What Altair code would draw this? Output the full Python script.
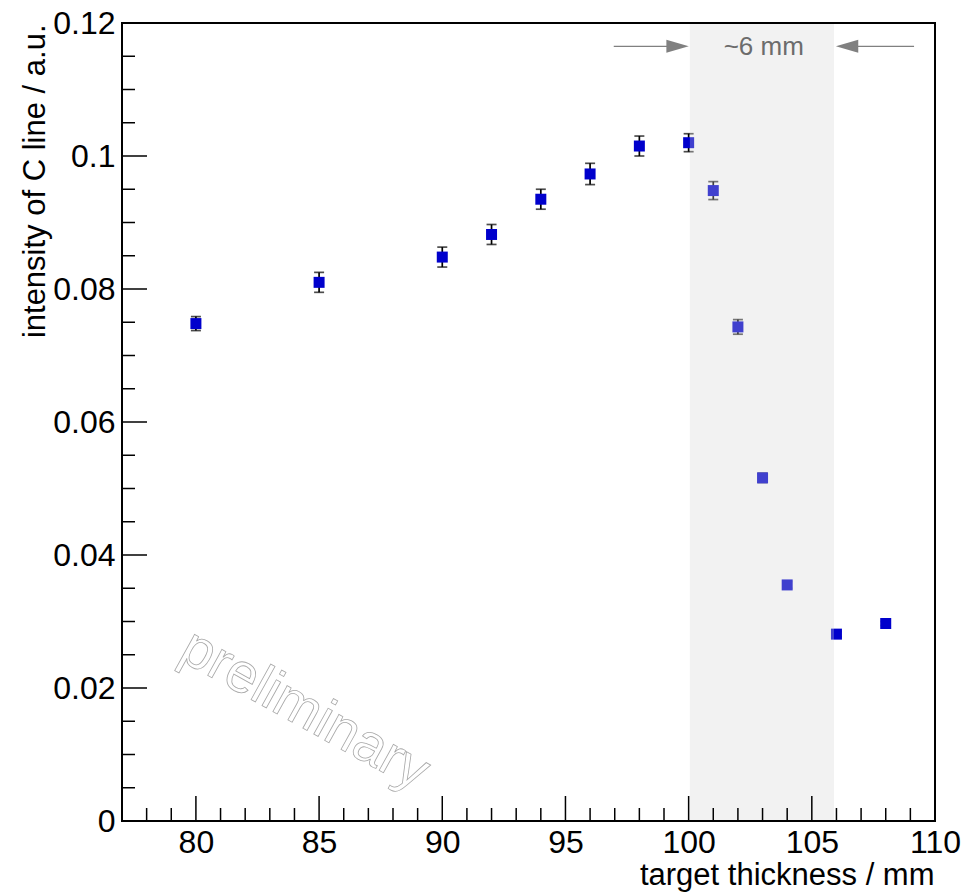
import altair as alt
import pandas as pd

# ---- data ----
thickness = [80, 85, 90, 92, 94, 96, 98, 100, 101, 102, 103, 104, 106, 108]
intensity = [0.0748, 0.0810, 0.0848, 0.0882, 0.0935, 0.0973, 0.1015, 0.1020,
             0.0948, 0.0743, 0.0516, 0.0355, 0.0281, 0.0297]
error = [0.00105, 0.0015, 0.0015, 0.0015, 0.0015, 0.0016, 0.0015, 0.00135,
         0.00135, 0.0011, 0.0007, 0.0005, 0.0004, 0.0003]

x_label_values = [80, 85, 90, 95, 100, 105, 110]
x_ticks_major = [80, 85, 90, 95, 100, 105]
x_ticks_minor = [78, 79, 81, 82, 83, 84, 86, 87, 88, 89, 91, 92, 93, 94,
                 96, 97, 98, 99, 101, 102, 103, 104, 106, 107, 108, 109]
y_label_values = [0, 0.02, 0.04, 0.06, 0.08, 0.10, 0.12]
y_ticks_major = [0.02, 0.04, 0.06, 0.08, 0.10]
y_ticks_minor = [0.005, 0.01, 0.015, 0.025, 0.03, 0.035, 0.045, 0.05, 0.055,
                 0.065, 0.07, 0.075, 0.085, 0.09, 0.095, 0.105, 0.11, 0.115]

band_range = [100.05, 105.9]
annot_text = ["~6 mm"]
annot_x = [103.05]
annot_y = [0.1164]
arrow_line_start = [96.96, 109.15]
arrow_line_end = [99.6, 106.4]
arrow_head_x = [99.55, 106.43]
arrow_y = [0.1165, 0.1165]
arrow_dir = ["right", "left"]
watermark = ["preliminary"]
watermark_x = [84.43]
watermark_y = [0.0167]

W, H = 813, 798
FONT = "Liberation Sans"

xs = alt.Scale(domain=[77, 110], nice=False, zero=False)
ys = alt.Scale(domain=[0, 0.12], nice=False, zero=False)

df = pd.DataFrame({"t": thickness, "v": intensity, "e": error})
df["lo"] = df["v"] - df["e"]
df["hi"] = df["v"] + df["e"]

xaxis = alt.Axis(values=x_label_values, format="d", ticks=False, tickSize=0,
                 domain=False, grid=False, labelFontSize=32, labelFont=FONT,
                 labelColor="black", labelPadding=31, labelBaseline="alphabetic",
                 labelFlush=False, labelOverlap=False,
                 title="target thickness / mm", titleFont=FONT, titleFontSize=31,
                 titleFontWeight="normal", titleColor="black", titleX=W - 1, titleY=63,
                 titleAlign="right", titleBaseline="alphabetic")
yaxis = alt.Axis(values=y_label_values, format="~g", ticks=False, tickSize=0,
                 domain=False, grid=False, labelFontSize=32, labelFont=FONT,
                 labelColor="black", labelPadding=7, labelBaseline="middle",
                 labelAlign="right", labelFlush=False, labelOverlap=False,
                 title="intensity of C line / a.u.", titleFont=FONT, titleFontSize=31,
                 titleFontWeight="normal", titleColor="black", titleAngle=270,
                 titleX=-78, titleY=1, titleAlign="right", titleBaseline="alphabetic")

base = alt.Chart(df)

err_rule = base.mark_rule(color="black", strokeWidth=1.7).encode(
    x=alt.X("t:Q", scale=xs, axis=xaxis),
    y=alt.Y("lo:Q", scale=ys, axis=yaxis),
    y2="hi:Q",
)
cap_lo = base.mark_tick(color="black", thickness=1.7, size=10, orient="horizontal").encode(
    x=alt.X("t:Q", scale=xs), y=alt.Y("lo:Q", scale=ys))
cap_hi = base.mark_tick(color="black", thickness=1.7, size=10, orient="horizontal").encode(
    x=alt.X("t:Q", scale=xs), y=alt.Y("hi:Q", scale=ys))
points = base.mark_square(size=121, color="#0000cc", opacity=1).encode(
    x=alt.X("t:Q", scale=xs), y=alt.Y("v:Q", scale=ys))

band = alt.Chart(pd.DataFrame({"b0": [band_range[0]], "b1": [band_range[1]]})).mark_rect(
    color="#d5d5d5", opacity=0.3).encode(
    x=alt.X("b0:Q", scale=xs), x2="b1:Q", y=alt.value(1), y2=alt.value(H - 1))

xmaj = alt.Chart(pd.DataFrame({"p": x_ticks_major})).mark_rule(color="black", strokeWidth=1.5).encode(
    x=alt.X("p:Q", scale=xs), y=alt.value(H), y2=alt.value(H - 25))
xmin = alt.Chart(pd.DataFrame({"p": x_ticks_minor})).mark_rule(color="black", strokeWidth=1.5).encode(
    x=alt.X("p:Q", scale=xs), y=alt.value(H), y2=alt.value(H - 13))
ymaj = alt.Chart(pd.DataFrame({"p": y_ticks_major})).mark_rule(color="black", strokeWidth=1.5).encode(
    y=alt.Y("p:Q", scale=ys), x=alt.value(0), x2=alt.value(25))
ymin = alt.Chart(pd.DataFrame({"p": y_ticks_minor})).mark_rule(color="black", strokeWidth=1.5).encode(
    y=alt.Y("p:Q", scale=ys), x=alt.value(0), x2=alt.value(13))

annot = alt.Chart(pd.DataFrame({"x": annot_x, "y": annot_y, "s": annot_text})).mark_text(
    font=FONT, fontSize=26, color="#6c6c6c", baseline="middle", align="center").encode(
    x=alt.X("x:Q", scale=xs), y=alt.Y("y:Q", scale=ys), text="s:N")

arrows_df = pd.DataFrame({"x1": arrow_line_start, "x2": arrow_line_end,
                          "hx": arrow_head_x, "y": arrow_y, "d": arrow_dir})
arrow_lines = alt.Chart(arrows_df).mark_rule(color="#808080", strokeWidth=1.2).encode(
    x=alt.X("x1:Q", scale=xs), x2="x2:Q", y=alt.Y("y:Q", scale=ys))
head_r = alt.Chart(arrows_df[arrows_df.d == "right"]).mark_point(
    shape="M -1 -0.59 L 1 0 L -1 0.59 Z", size=500, filled=True, color="#808080", opacity=1).encode(
    x=alt.X("hx:Q", scale=xs), y=alt.Y("y:Q", scale=ys))
head_l = alt.Chart(arrows_df[arrows_df.d == "left"]).mark_point(
    shape="M 1 -0.59 L -1 0 L 1 0.59 Z", size=500, filled=True, color="#808080", opacity=1).encode(
    x=alt.X("hx:Q", scale=xs), y=alt.Y("y:Q", scale=ys))

wm = alt.Chart(pd.DataFrame({"x": watermark_x, "y": watermark_y, "s": watermark})).mark_text(
    font=FONT, fontSize=56, angle=29, fill="transparent", stroke="#a8a8a8", strokeWidth=0.8,
    align="center", baseline="middle").encode(
    x=alt.X("x:Q", scale=xs), y=alt.Y("y:Q", scale=ys), text="s:N")

chart = alt.layer(
    err_rule, cap_lo, cap_hi, points, band, xmaj, xmin, ymaj, ymin,
    wm, arrow_lines, head_r, head_l, annot
).properties(
    width=W, height=H,
    autosize=alt.AutoSizeParams(type="none"),
    padding={"left": 122, "top": 23, "right": 44, "bottom": 73},
    background="white",
).configure_view(stroke="black", strokeWidth=2)

chart.save("out.html", embed_options={"renderer": "svg", "actions": False})
